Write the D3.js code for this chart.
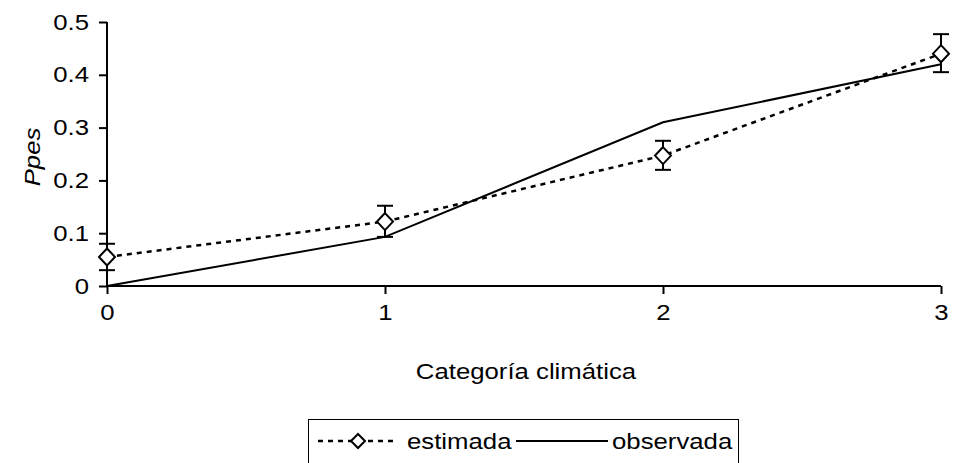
<!DOCTYPE html>
<html>
<head>
<meta charset="utf-8">
<script src="https://cdn.jsdelivr.net/npm/d3@7"></script>
<style>
  body { margin: 0; background: #fff; }
  text { font-family: "Liberation Sans", Arial, sans-serif; fill: #000; }
</style>
</head>
<body>
<div id="chart"></div>
<script>
// data
var categorias = [0, 1, 2, 3];
var estimada = [0.055, 0.122, 0.247, 0.440];
var estimadaLow = [0.030, 0.093, 0.220, 0.405];
var estimadaHigh = [0.080, 0.152, 0.275, 0.477];
var observada = [0.0, 0.093, 0.310, 0.420];
var yTicks = [0, 0.1, 0.2, 0.3, 0.4, 0.5];

var W = 956, H = 463;
var margin = {top: 22, right: 15, bottom: 177, left: 107},
    width = W - margin.left - margin.right,
    height = H - margin.top - margin.bottom;

var FS = "22px", stretch = 1.17;

var svgRoot = d3.select("#chart").append("svg")
    .attr("width", W).attr("height", H);
var svg = svgRoot.append("g")
    .attr("transform", `translate(${margin.left}, ${margin.top})`);

var x = d3.scaleLinear().domain([0, 3]).range([0, width]);
var y = d3.scaleLinear().domain([0, 0.5]).range([height, 0]);

// axes
var yAxis = svg.append("g")
    .call(d3.axisLeft(y).tickValues(yTicks).tickSize(8).tickPadding(10)
        .tickFormat(d => d === 0 ? "0" : d3.format(".1f")(d)));
var xAxis = svg.append("g")
    .attr("transform", `translate(0, ${height})`)
    .call(d3.axisBottom(x).tickValues(categorias).tickSize(8).tickPadding(10)
        .tickFormat(d3.format("d")));

[yAxis, xAxis].forEach(function(a) {
    a.select(".domain").remove();
    a.selectAll(".tick line").attr("stroke", "#000").attr("stroke-width", 2);
    a.selectAll("text").style("font-size", FS).attr("fill", "#000");
});
svg.append("line").attr("x1", 0).attr("x2", 0).attr("y1", 0).attr("y2", height)
    .attr("stroke", "#000").attr("stroke-width", 2);
svg.append("line").attr("x1", 0).attr("x2", width).attr("y1", height).attr("y2", height)
    .attr("stroke", "#000").attr("stroke-width", 2);

// axis titles
svg.append("text")
    .attr("text-anchor", "middle")
    .attr("x", width / 2 + 2)
    .attr("y", height + 93)
    .style("font-size", FS)
    .text("Categoría climática");

svg.append("text")
    .attr("text-anchor", "middle")
    .attr("transform", "rotate(-90)")
    .attr("x", -135)
    .attr("y", -67)
    .style("font-size", FS)
    .style("font-style", "italic")
    .text("Ppes");

// observada line
var line = d3.line().x((d, i) => x(categorias[i])).y(d => y(d));
svg.append("path")
    .datum(observada)
    .attr("d", line)
    .attr("fill", "none")
    .attr("stroke", "#000")
    .attr("stroke-width", 2);

// estimada dashed line
svg.append("path")
    .datum(estimada)
    .attr("d", line)
    .attr("fill", "none")
    .attr("stroke", "#000")
    .attr("stroke-width", 2.5)
    .attr("stroke-dasharray", "5,5");

// error bars
var eb = svg.selectAll(".err").data(categorias).enter().append("g");
eb.append("line")
    .attr("x1", d => x(d)).attr("x2", d => x(d))
    .attr("y1", (d, i) => y(estimadaLow[i])).attr("y2", (d, i) => y(estimadaHigh[i]))
    .attr("stroke", "#000").attr("stroke-width", 2);
[estimadaLow, estimadaHigh].forEach(function(arr) {
    eb.append("line")
        .attr("x1", d => x(d) - 8).attr("x2", d => x(d) + 8)
        .attr("y1", (d, i) => y(arr[i])).attr("y2", (d, i) => y(arr[i]))
        .attr("stroke", "#000").attr("stroke-width", 2);
});

// diamonds
var diamond = "M0,-8.5L8,0L0,8.5L-8,0Z";
svg.selectAll(".dia").data(estimada).enter().append("path")
    .attr("d", diamond)
    .attr("transform", (d, i) => `translate(${x(categorias[i])},${y(d)})`)
    .attr("fill", "#fff")
    .attr("stroke", "#000")
    .attr("stroke-width", 2);

// legend
var leg = svgRoot.append("g");
leg.append("rect")
    .attr("x", 308.5).attr("y", 419.5).attr("width", 430).attr("height", 44)
    .attr("fill", "#fff").attr("stroke", "#000").attr("stroke-width", 1);
leg.append("line")
    .attr("x1", 318).attr("x2", 398).attr("y1", 441).attr("y2", 441)
    .attr("stroke", "#000").attr("stroke-width", 2.5).attr("stroke-dasharray", "5,5");
leg.append("path")
    .attr("d", "M0,-7L7,0L0,7L-7,0Z")
    .attr("transform", "translate(358,441)")
    .attr("fill", "#fff").attr("stroke", "#000").attr("stroke-width", 2);
leg.append("text").attr("x", 407).attr("y", 449).style("font-size", FS).text("estimada");
leg.append("line")
    .attr("x1", 516).attr("x2", 608).attr("y1", 441).attr("y2", 441)
    .attr("stroke", "#000").attr("stroke-width", 2);
leg.append("text").attr("x", 612).attr("y", 449).style("font-size", FS).text("observada");

// Excel-like wide glyphs: stretch all text horizontally
svgRoot.selectAll("text").each(function() {
    var len = this.getComputedTextLength();
    d3.select(this).attr("textLength", len * stretch)
        .attr("lengthAdjust", "spacingAndGlyphs");
});
</script>
</body>
</html>
